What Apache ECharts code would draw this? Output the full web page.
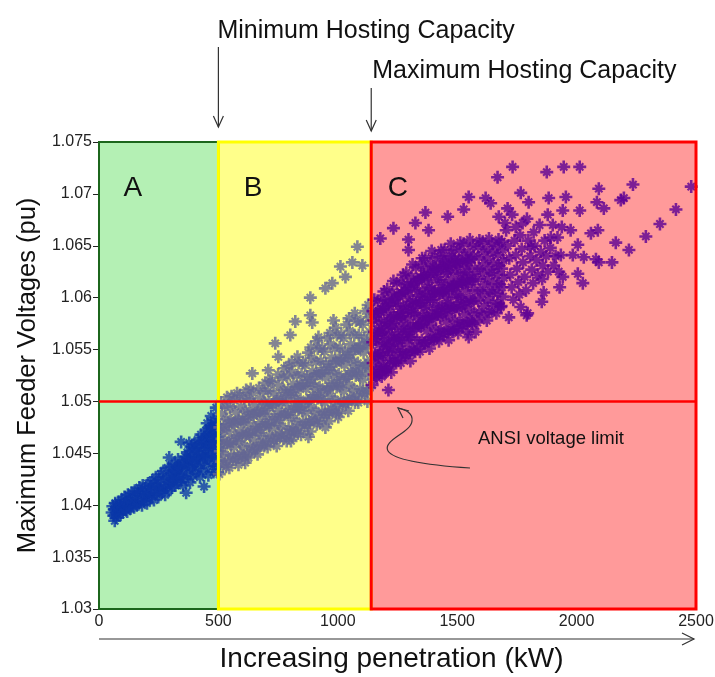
<!DOCTYPE html>
<html>
<head>
<meta charset="utf-8">
<script src="https://cdn.jsdelivr.net/npm/echarts@6/dist/echarts.min.js"></script>
<style>
html, body { margin: 0; padding: 0; background: #fff; }
#chart { width: 715px; height: 677px; }
</style>
</head>
<body>
<div id="chart"></div>
<script>
// zones on the penetration axis (kW)
var zoneEdges = [0, 500, 1140, 2500];
var zoneNames = ['A', 'B', 'C'];
var zoneLabelX = [142, 645, 1252];
var ansiLimit = 1.05;
var xMin = 0, xMax = 2500, xStep = 500;
var yMin = 1.03, yMax = 1.075, yStep = 0.005;

// zone A - below minimum hosting capacity
var blueA = [
  [55,1.0393],[58,1.0399],[62,1.0390],[64,1.0396],[66,1.0385],[68,1.0402],[71,1.0388],[74,1.0398],[78,1.0391],[80,1.0403],[84,1.0395],[87,1.0400],[90,1.0391],[94,1.0405],[97,1.0397],[100,1.0393],
  [104,1.0401],[107,1.0408],[110,1.0396],[114,1.0403],[118,1.0394],[121,1.0410],[125,1.0399],[128,1.0405],[132,1.0397],[136,1.0412],[139,1.0402],[143,1.0408],[147,1.0398],[150,1.0414],[154,1.0404],[158,1.0400],
  [162,1.0411],[165,1.0401],[169,1.0417],[172,1.0406],[176,1.0413],[180,1.0400],[183,1.0419],[187,1.0409],[190,1.0404],[194,1.0416],[198,1.0410],[201,1.0402],[205,1.0421],[209,1.0412],[212,1.0406],[216,1.0418],
  [220,1.0410],[223,1.0424],[227,1.0415],[230,1.0405],[234,1.0420],[238,1.0427],[241,1.0411],[245,1.0418],[248,1.0408],[252,1.0425],[256,1.0416],[259,1.0430],[263,1.0412],[266,1.0421],[270,1.0433],[274,1.0417],[277,1.0410],[281,1.0426],[285,1.0419],[288,1.0436],
  [292,1.0414],[294,1.0446],[295,1.0428],[299,1.0421],[302,1.0437],[306,1.0417],[309,1.0431],[313,1.0424],[317,1.0440],[320,1.0419],[324,1.0433],[327,1.0427],[331,1.0444],[335,1.0422],[338,1.0436],[344,1.0461],[345,1.0429],[349,1.0441],[352,1.0419],[356,1.0434],[360,1.0447],[365,1.0412],
  [363,1.0425],[367,1.0439],[370,1.0451],[374,1.0430],[377,1.0444],[378,1.0460],[381,1.0422],[385,1.0456],[388,1.0437],[392,1.0447],[395,1.0428],[399,1.0459],[402,1.0440],[406,1.0432],[409,1.0452],[413,1.0463],[416,1.0436],[420,1.0446],[423,1.0427],[427,1.0468],[430,1.0441],[440,1.0418],
  [434,1.0455],[437,1.0433],[441,1.0461],[444,1.0447],[448,1.0472],[451,1.0438],[453,1.0479],[455,1.0456],[458,1.0429],[462,1.0465],[465,1.0450],[469,1.0476],[470,1.0486],[472,1.0440],[476,1.0458],[479,1.0432],[480,1.0482],[483,1.0470],[486,1.0447],[489,1.0478],[491,1.0494],[491,1.0437],[493,1.0462],[495,1.0452],[497,1.0432],[498,1.0472],
  [305,1.0426],[318,1.0434],[330,1.0438],[342,1.0426],[355,1.0440],[368,1.0446],[380,1.0436],[390,1.0452],[398,1.0443],[405,1.0455],[412,1.0445],[418,1.0458],[425,1.0450],[432,1.0462],[436,1.0446],
  [443,1.0466],[447,1.0455],[452,1.0468],[457,1.0445],[460,1.0474],[464,1.0458],[468,1.0466],[474,1.0449],[478,1.0474],[482,1.0459],[487,1.0466],[490,1.0443],[494,1.0478],[496,1.0466],[499,1.0456]
];

// zone B - between minimum and maximum hosting capacity
var grayB = [
  [504,1.0430],[512,1.0442],[508,1.0452],[515,1.0464],[506,1.0475],[514,1.0488],[510,1.0499],
  [532,1.0437],[527,1.0449],[535,1.0460],[525,1.0472],[533,1.0483],[529,1.0495],[536,1.0504],
  [546,1.0436],[554,1.0448],[550,1.0459],[544,1.0471],[552,1.0482],[548,1.0494],[555,1.0505],
  [573,1.0444],[566,1.0456],[575,1.0467],[568,1.0478],[571,1.0490],[564,1.0501],[578,1.0508],
  [584,1.0439],[592,1.0450],[588,1.0461],[595,1.0472],[586,1.0483],[594,1.0495],[590,1.0506],
  [612,1.0446],[607,1.0457],[615,1.0468],[605,1.0480],[613,1.0491],[609,1.0503],[616,1.0511],
  [626,1.0446],[634,1.0457],[630,1.0468],[624,1.0479],[632,1.0490],[628,1.0502],[635,1.0512],
  [653,1.0453],[646,1.0464],[655,1.0475],[648,1.0486],[651,1.0497],[644,1.0508],
  [664,1.0449],[672,1.0460],[668,1.0470],[675,1.0480],[666,1.0491],[674,1.0503],[670,1.0513],
  [692,1.0457],[687,1.0467],[695,1.0478],[685,1.0488],[693,1.0499],[689,1.0510],[696,1.0518],
  [706,1.0456],[714,1.0467],[710,1.0477],[704,1.0488],[712,1.0499],[708,1.0510],[715,1.0520],
  [733,1.0462],[726,1.0474],[735,1.0485],[728,1.0496],[731,1.0508],[724,1.0519],
  [744,1.0457],[752,1.0469],[748,1.0479],[755,1.0491],[746,1.0502],[754,1.0515],[750,1.0526],
  [772,1.0464],[767,1.0476],[775,1.0487],[765,1.0499],[773,1.0511],[769,1.0523],[776,1.0532],
  [786,1.0462],[794,1.0474],[790,1.0487],[784,1.0499],[792,1.0511],[788,1.0524],[795,1.0534],
  [804,1.0462],[812,1.0473],[808,1.0484],[815,1.0495],[806,1.0506],[814,1.0517],[810,1.0528],[807,1.0538],
  [832,1.0469],[827,1.0481],[835,1.0492],[825,1.0503],[833,1.0514],[829,1.0525],[836,1.0537],[831,1.0543],
  [846,1.0468],[854,1.0480],[850,1.0491],[844,1.0502],[852,1.0515],[848,1.0526],[855,1.0537],
  [873,1.0477],[866,1.0489],[875,1.0500],[868,1.0512],[871,1.0524],[864,1.0535],[877,1.0547],
  [884,1.0471],[892,1.0483],[888,1.0494],[895,1.0506],[886,1.0517],[894,1.0529],[890,1.0542],[887,1.0552],
  [912,1.0478],[907,1.0491],[915,1.0503],[905,1.0515],[913,1.0527],[909,1.0538],[916,1.0551],[911,1.0558],
  [926,1.0479],[934,1.0490],[930,1.0502],[924,1.0514],[932,1.0527],[928,1.0539],[935,1.0551],
  [953,1.0487],[946,1.0499],[955,1.0511],[948,1.0523],[951,1.0536],[944,1.0548],[957,1.0561],
  [964,1.0481],[972,1.0493],[968,1.0505],[975,1.0518],[966,1.0530],[974,1.0542],[970,1.0555],[967,1.0566],
  [992,1.0489],[987,1.0502],[995,1.0514],[985,1.0527],[993,1.0539],[989,1.0551],[996,1.0564],[991,1.0571],
  [1006,1.0489],[1014,1.0501],[1010,1.0514],[1004,1.0526],[1012,1.0539],[1008,1.0552],[1015,1.0564],
  [1033,1.0497],[1026,1.0510],[1035,1.0522],[1028,1.0535],[1031,1.0548],[1024,1.0561],[1037,1.0574],
  [1044,1.0491],[1052,1.0504],[1048,1.0516],[1055,1.0529],[1046,1.0542],[1054,1.0555],[1050,1.0568],[1047,1.0580],
  [1072,1.0499],[1067,1.0512],[1075,1.0525],[1065,1.0538],[1073,1.0551],[1069,1.0564],[1076,1.0578],[1071,1.0585],
  [1086,1.0499],[1094,1.0512],[1090,1.0525],[1084,1.0537],[1092,1.0551],[1088,1.0564],[1095,1.0577],
  [1113,1.0507],[1106,1.0521],[1115,1.0534],[1108,1.0547],[1111,1.0561],[1104,1.0574],[1117,1.0587],
  [1124,1.0500],[1132,1.0513],[1128,1.0527],[1135,1.0540],[1126,1.0553],[1134,1.0567],[1130,1.0581],[1127,1.0593],
  [642,1.0527],[709,1.0530],[738,1.0556],[751,1.0543],[801,1.0564],[822,1.0577],[885,1.0583],[893,1.0576],[885,1.0600],[948,1.0609],[977,1.0614],
  [1011,1.0630],[1032,1.0620],[1061,1.0634],[1082,1.0649],[1103,1.0631],[919,1.0562],[982,1.0578],[1002,1.0485],[948,1.0475],[877,1.0466],[810,1.0466],[612,1.0441],
  [521,1.0440],[518,1.0458],[523,1.0476],[541,1.0442],[538,1.0460],[543,1.0478],[561,1.0444],[558,1.0462],[563,1.0479],
  [581,1.0446],[578,1.0465],[583,1.0481],[601,1.0448],[598,1.0467],[603,1.0483],[621,1.0450],[618,1.0469],[623,1.0485],
  [641,1.0453],[638,1.0471],[643,1.0487],[661,1.0455],[658,1.0473],[663,1.0489],[681,1.0458],[678,1.0475],[683,1.0492],
  [701,1.0461],[698,1.0478],[703,1.0494],[721,1.0462],[718,1.0480],[723,1.0497],[741,1.0465],[738,1.0483],[743,1.0500],
  [761,1.0467],[758,1.0485],[763,1.0503],[781,1.0468],[778,1.0488],[783,1.0506],[801,1.0470],[798,1.0490],[803,1.0509],
  [821,1.0472],[818,1.0493],[823,1.0511],[841,1.0475],[838,1.0495],[843,1.0515],[861,1.0477],[858,1.0498],[863,1.0518],
  [881,1.0480],[878,1.0501],[883,1.0521],[901,1.0482],[898,1.0504],[903,1.0524],[921,1.0484],[918,1.0506],[923,1.0527],
  [941,1.0487],[938,1.0510],[943,1.0530],[961,1.0489],[958,1.0512],[963,1.0533],[981,1.0492],[978,1.0515],[983,1.0536],
  [1001,1.0496],[998,1.0518],[1003,1.0540],[1021,1.0498],[1018,1.0521],[1023,1.0542],[1041,1.0500],[1038,1.0524],[1043,1.0545],
  [1061,1.0503],[1058,1.0527],[1063,1.0548],[1081,1.0505],[1078,1.0529],[1083,1.0551],[1101,1.0508],[1098,1.0532],[1103,1.0555],
  [1121,1.0510],[1118,1.0535],[1123,1.0557]
];

// zone C - above maximum hosting capacity
var purpleC = [
  [1144,1.0516],[1152,1.0526],[1148,1.0537],[1155,1.0546],[1146,1.0557],[1154,1.0567],[1150,1.0578],[1147,1.0587],[1153,1.0598],
  [1164,1.0523],[1172,1.0533],[1168,1.0544],[1175,1.0555],[1166,1.0566],[1174,1.0576],[1170,1.0587],[1167,1.0597],
  [1184,1.0524],[1192,1.0534],[1188,1.0545],[1195,1.0556],[1186,1.0567],[1194,1.0578],[1190,1.0589],[1187,1.0599],[1193,1.0606],
  [1204,1.0532],[1212,1.0542],[1208,1.0554],[1215,1.0564],[1206,1.0576],[1214,1.0586],[1210,1.0598],[1207,1.0608],
  [1224,1.0528],[1232,1.0539],[1228,1.0550],[1235,1.0561],[1226,1.0572],[1234,1.0583],[1230,1.0594],[1227,1.0605],[1233,1.0616],
  [1244,1.0537],[1252,1.0548],[1248,1.0559],[1255,1.0570],[1246,1.0581],[1254,1.0592],[1250,1.0603],[1247,1.0614],
  [1264,1.0537],[1272,1.0548],[1268,1.0559],[1275,1.0570],[1266,1.0582],[1274,1.0592],[1270,1.0604],[1267,1.0615],[1273,1.0622],
  [1284,1.0545],[1292,1.0556],[1288,1.0568],[1295,1.0579],[1286,1.0591],[1294,1.0602],[1290,1.0613],[1287,1.0624],
  [1304,1.0539],[1312,1.0550],[1308,1.0562],[1315,1.0573],[1306,1.0586],[1314,1.0597],[1310,1.0609],[1307,1.0620],[1313,1.0632],
  [1324,1.0548],[1332,1.0559],[1328,1.0571],[1335,1.0582],[1326,1.0595],[1334,1.0606],[1330,1.0618],[1327,1.0629],
  [1344,1.0548],[1352,1.0559],[1348,1.0572],[1355,1.0583],[1346,1.0595],[1354,1.0607],[1350,1.0619],[1347,1.0631],[1353,1.0638],
  [1364,1.0556],[1372,1.0568],[1368,1.0580],[1375,1.0591],[1366,1.0603],[1374,1.0615],[1370,1.0627],[1367,1.0638],
  [1384,1.0551],[1392,1.0562],[1388,1.0574],[1395,1.0586],[1386,1.0598],[1394,1.0609],[1390,1.0622],[1387,1.0633],[1393,1.0645],
  [1404,1.0559],[1412,1.0570],[1408,1.0582],[1415,1.0593],[1406,1.0606],[1414,1.0617],[1410,1.0629],[1407,1.0640],
  [1424,1.0558],[1432,1.0569],[1428,1.0581],[1435,1.0592],[1426,1.0604],[1434,1.0615],[1430,1.0628],[1427,1.0639],[1433,1.0646],
  [1444,1.0565],[1452,1.0577],[1448,1.0589],[1455,1.0600],[1446,1.0612],[1454,1.0623],[1450,1.0635],[1447,1.0646],
  [1464,1.0559],[1472,1.0570],[1468,1.0582],[1475,1.0593],[1466,1.0606],[1474,1.0617],[1470,1.0629],[1467,1.0640],[1473,1.0652],
  [1484,1.0567],[1492,1.0578],[1488,1.0590],[1495,1.0601],[1486,1.0613],[1494,1.0624],[1490,1.0636],[1487,1.0647],
  [1504,1.0566],[1512,1.0577],[1508,1.0589],[1515,1.0600],[1506,1.0612],[1514,1.0623],[1510,1.0635],[1507,1.0646],[1513,1.0653],
  [1524,1.0573],[1532,1.0584],[1528,1.0596],[1535,1.0607],[1526,1.0619],[1534,1.0630],[1530,1.0641],[1527,1.0652],
  [1544,1.0567],[1552,1.0578],[1548,1.0589],[1555,1.0600],[1546,1.0612],[1554,1.0622],[1550,1.0634],[1547,1.0644],[1553,1.0656],
  [1564,1.0575],[1572,1.0585],[1568,1.0597],[1575,1.0607],[1566,1.0618],[1574,1.0628],[1570,1.0640],[1567,1.0650],
  [1584,1.0576],[1592,1.0586],[1588,1.0597],[1595,1.0607],[1586,1.0618],[1594,1.0628],[1590,1.0639],[1587,1.0649],[1593,1.0655],
  [1604,1.0582],[1612,1.0592],[1608,1.0603],[1615,1.0613],[1606,1.0623],[1614,1.0633],[1610,1.0644],[1607,1.0654],
  [1624,1.0578],[1632,1.0587],[1628,1.0598],[1635,1.0607],[1626,1.0618],[1634,1.0627],[1630,1.0637],[1627,1.0647],[1633,1.0657],
  [1644,1.0586],[1652,1.0595],[1648,1.0605],[1655,1.0614],[1646,1.0624],[1654,1.0633],[1650,1.0643],[1647,1.0652],
  [1664,1.0585],[1672,1.0594],[1668,1.0604],[1675,1.0613],[1666,1.0622],[1674,1.0631],[1670,1.0641],[1667,1.0650],[1673,1.0656],
  [1684,1.0592],[1692,1.0601],[1688,1.0610],[1695,1.0619],[1686,1.0628],[1694,1.0636],[1690,1.0646],[1687,1.0654],
  [1160,1.0530],[1160,1.0560],[1160,1.0585],[1180,1.0540],[1180,1.0571],[1200,1.0528],[1200,1.0560],[1200,1.0592],[1220,1.0547],[1220,1.0580],
  [1240,1.0565],[1240,1.0598],[1260,1.0553],[1260,1.0586],[1280,1.0575],[1280,1.0607],[1300,1.0562],[1300,1.0596],[1320,1.0585],[1320,1.0614],
  [1340,1.0575],[1340,1.0602],[1360,1.0590],[1360,1.0622],[1380,1.0580],[1380,1.0610],[1400,1.0598],[1400,1.0630],[1420,1.0588],[1420,1.0620],
  [1440,1.0605],[1440,1.0635],[1460,1.0595],[1460,1.0625],[1480,1.0610],[1480,1.0640],[1500,1.0603],[1500,1.0630],[1520,1.0615],[1540,1.0625],
  [1161,1.0525],[1158,1.0544],[1163,1.0563],[1159,1.0582],[1181,1.0528],[1178,1.0547],[1183,1.0566],[1179,1.0586],
  [1201,1.0531],[1198,1.0550],[1203,1.0570],[1199,1.0591],[1221,1.0535],[1218,1.0554],[1223,1.0574],[1219,1.0595],
  [1241,1.0539],[1238,1.0558],[1243,1.0578],[1239,1.0599],[1261,1.0542],[1258,1.0561],[1263,1.0582],[1259,1.0602],
  [1281,1.0544],[1278,1.0564],[1283,1.0585],[1279,1.0606],[1301,1.0547],[1298,1.0567],[1303,1.0589],[1299,1.0610],
  [1321,1.0549],[1318,1.0570],[1323,1.0592],[1319,1.0613],[1341,1.0553],[1338,1.0573],[1343,1.0595],[1339,1.0617],
  [1361,1.0556],[1358,1.0576],[1363,1.0598],[1359,1.0620],[1381,1.0558],[1378,1.0579],[1383,1.0601],[1379,1.0622],
  [1401,1.0561],[1398,1.0582],[1403,1.0604],[1399,1.0625],[1421,1.0563],[1418,1.0584],[1423,1.0605],[1419,1.0627],
  [1441,1.0565],[1438,1.0586],[1443,1.0607],[1439,1.0629],[1461,1.0567],[1458,1.0588],[1463,1.0609],[1459,1.0631],
  [1481,1.0569],[1478,1.0589],[1483,1.0611],[1479,1.0632],[1501,1.0571],[1498,1.0591],[1503,1.0613],[1499,1.0634],
  [1521,1.0573],[1518,1.0593],[1523,1.0614],[1519,1.0635],[1541,1.0575],[1538,1.0595],[1543,1.0616],[1539,1.0636],
  [1561,1.0577],[1558,1.0596],[1563,1.0616],[1559,1.0637],
  [1705,1.0665],[1712,1.0650],[1718,1.0638],[1722,1.0622],[1728,1.0610],[1735,1.0598],[1740,1.0655],[1745,1.0641],[1750,1.0628],[1756,1.0615],[1760,1.0603],
  [1764,1.0660],[1770,1.0647],[1776,1.0634],[1782,1.0620],[1788,1.0607],[1792,1.0676],[1798,1.0655],[1805,1.0640],[1812,1.0627],[1818,1.0614],
  [1825,1.0650],[1832,1.0636],[1838,1.0622],[1845,1.0670],[1850,1.0644],[1856,1.0618],[1866,1.0655],[1872,1.0640],[1880,1.0625],[1890,1.0648],
  [1900,1.0670],[1912,1.0640],[1920,1.0658],[1925,1.0625],[1700,1.0672],[1730,1.0680],[1745,1.0668],
  [1178,1.0657],[1233,1.0667],[1296,1.0656],[1296,1.0646],[1325,1.0672],[1367,1.0682],[1380,1.0665],[1460,1.0678],[1527,1.0685],[1548,1.0697],
  [1619,1.0696],[1640,1.0691],[1711,1.0686],[1674,1.0678],[1732,1.0726],[1669,1.0716],[1766,1.0701],[1799,1.0692],[1774,1.0672],
  [1682,1.0591],[1716,1.0581],[1766,1.0591],[1795,1.0585],[1548,1.0562],[1577,1.0567],[1212,1.0511],
  [1875,1.0721],[1946,1.0726],[2013,1.0726],[2093,1.0705],[2185,1.0694],[2198,1.0696],[2236,1.0709],[2416,1.0685],[2349,1.0671],[2290,1.0659],
  [2219,1.0646],[2164,1.0653],[2148,1.0634],[2093,1.0634],[2081,1.0637],[2030,1.0639],[2005,1.0623],[2026,1.0614],[1942,1.0620],[1929,1.0610],
  [1904,1.0631],[1858,1.0631],[1862,1.0605],[1854,1.0596],[1791,1.0583],[2085,1.0692],[2114,1.0686],[2013,1.0684],[1955,1.0697],[1883,1.0696],
  [1879,1.0680],[1942,1.0684],[1938,1.0668],[1975,1.0665],[2089,1.0665],[2060,1.0662],[2005,1.0651],[1934,1.0641],[1984,1.0641],[1892,1.0658],
  [1808,1.0649],[1820,1.0663],[2480,1.0707]
];

var zoneFill = ['#b4f0b4', '#ffff8a', '#ff9a9a'];
var zoneBorder = ['#1c661c', '#ffff00', '#ff0000'];
var zoneBorderWidth = [2, 3, 3];
var markerColor = ['#0a37a8', '#646793', '#5c0094'];

// MATLAB-like '*' marker, heavy strokes so the dense cloud reads solid
var starPath = 'path://M-1.3,-6.5L1.3,-6.5L1.3,6.5L-1.3,6.5Z M-6.5,-1.3L6.5,-1.3L6.5,1.3L-6.5,1.3Z ' +
  'M-4.4,-2.9L-2.9,-4.4L4.4,2.9L2.9,4.4Z M2.9,-4.4L4.4,-2.9L-2.9,4.4L-4.4,2.9Z M-2.3,-2.3L2.3,-2.3L2.3,2.3L-2.3,2.3Z';

var plot = { left: 99, top: 142, width: 597, height: 467 };
var font = 'Liberation Sans';

var grids = [{ left: plot.left, top: plot.top, width: plot.width, height: plot.height, containLabel: false, outerBoundsMode: 'none' }];
for (var i = 0; i < 3; i++) {
  grids.push({
    left: plot.left + plot.width * (zoneEdges[i] - xMin) / (xMax - xMin),
    top: plot.top,
    width: plot.width * (zoneEdges[i + 1] - zoneEdges[i]) / (xMax - xMin),
    height: plot.height,
    containLabel: false,
    outerBoundsMode: 'none'
  });
}

var tickStyle = { show: true, inside: true, length: 6, lineStyle: { color: '#222', width: 1 } };

var xAxes = [
  {
    gridIndex: 0, type: 'value', min: xMin, max: xMax, interval: xStep, position: 'bottom',
    name: 'Increasing penetration (kW)', nameLocation: 'middle', nameGap: 36,
    nameTextStyle: { fontSize: 28, color: '#111', fontFamily: font, padding: [0, 12, 0, 0] },
    axisLine: { show: false }, axisTick: tickStyle, splitLine: { show: false },
    axisLabel: { fontSize: 16, color: '#222', fontFamily: font, margin: 5, formatter: function (v) { return String(v); } }
  },
  {
    gridIndex: 0, type: 'value', min: xMin, max: xMax, interval: xStep, position: 'top',
    axisLine: { show: false }, axisTick: tickStyle, splitLine: { show: false }, axisLabel: { show: false }
  }
];
var yAxes = [
  {
    gridIndex: 0, type: 'value', min: yMin, max: yMax, interval: yStep, position: 'left',
    name: 'Maximum Feeder Voltages (pu)', nameLocation: 'middle', nameGap: 57,
    nameTextStyle: { fontSize: 25.5, color: '#111', fontFamily: font },
    axisLine: { show: false }, axisTick: tickStyle, splitLine: { show: false },
    axisLabel: {
      fontSize: 16, color: '#222', fontFamily: font, margin: 7,
      formatter: function (v) { return String(+v.toFixed(3)); }
    }
  },
  {
    gridIndex: 0, type: 'value', min: yMin, max: yMax, interval: yStep, position: 'right',
    axisLine: { show: false }, axisTick: tickStyle, splitLine: { show: false }, axisLabel: { show: false }
  }
];
for (var j = 0; j < 3; j++) {
  xAxes.push({ gridIndex: j + 1, type: 'value', min: zoneEdges[j], max: zoneEdges[j + 1], show: false });
  yAxes.push({ gridIndex: j + 1, type: 'value', min: yMin, max: yMax, show: false });
}

var zoneRows = [];
for (var k = 0; k < 3; k++) zoneRows.push([zoneEdges[k], zoneEdges[k + 1]]);

function zoneRect(api, x0, x1) {
  var p0 = api.coord([x0, yMax]);
  var p1 = api.coord([x1, yMin]);
  return { x: p0[0], y: p0[1], width: p1[0] - p0[0], height: p1[1] - p0[1] };
}

var pointSets = [blueA, grayB, purpleC];
var series = [
  {
    type: 'custom', name: 'zones', xAxisIndex: 0, yAxisIndex: 0, z: 1, silent: true,
    data: zoneRows,
    renderItem: function (params, api) {
      return {
        type: 'rect', shape: zoneRect(api, api.value(0), api.value(1)),
        style: { fill: zoneFill[params.dataIndex] }
      };
    }
  }
];
pointSets.forEach(function (pts, idx) {
  series.push({
    type: 'scatter', xAxisIndex: idx + 2, yAxisIndex: idx + 2, z: 2, clip: true, silent: true,
    symbol: starPath, symbolSize: 13,
    itemStyle: { color: markerColor[idx] },
    data: pts
  });
});
series.push({
  type: 'custom', name: 'zoneBorders', xAxisIndex: 0, yAxisIndex: 0, z: 3, silent: true,
  data: zoneRows,
  renderItem: function (params, api) {
    var i = params.dataIndex;
    return {
      type: 'rect', shape: zoneRect(api, api.value(0), api.value(1)),
      style: { fill: 'none', stroke: zoneBorder[i], lineWidth: zoneBorderWidth[i] }
    };
  }
});
series.push({
  type: 'custom', name: 'ansi', xAxisIndex: 0, yAxisIndex: 0, z: 4, silent: true,
  data: [[xMin, xMax, ansiLimit]],
  renderItem: function (params, api) {
    var a = api.coord([api.value(0), api.value(2)]);
    var b = api.coord([api.value(1), api.value(2)]);
    return {
      type: 'line', shape: { x1: a[0], y1: a[1], x2: b[0], y2: b[1] },
      style: { stroke: '#ff0000', lineWidth: 2.5 }
    };
  }
});

var chart = echarts.init(document.getElementById('chart'));
chart.setOption({
  animation: false,
  backgroundColor: '#ffffff',
  grid: grids,
  xAxis: xAxes,
  yAxis: yAxes,
  series: series
});

// annotations
function px(x, y) { return chart.convertToPixel({ gridIndex: 0 }, [x, y]); }
var ink = '#333';
var inkStyle = { stroke: ink, lineWidth: 1.2, fill: null };
function downArrow(x, y0, y1) {
  return [
    { type: 'line', shape: { x1: x, y1: y0, x2: x, y2: y1 }, style: inkStyle },
    { type: 'polyline', shape: { points: [[x - 5, y1 - 11], [x, y1], [x + 5, y1 - 11]] }, style: inkStyle }
  ];
}
var xMinCap = px(zoneEdges[1], yMax)[0];
var xMaxCap = px(zoneEdges[2], yMax)[0];
var graphics = [
  { type: 'text', x: xMinCap - 1, y: 31, style: { text: 'Minimum Hosting Capacity', fontSize: 25, fontFamily: font, fill: '#111', textVerticalAlign: 'middle' } },
  { type: 'text', x: xMaxCap + 1, y: 71, style: { text: 'Maximum Hosting Capacity', fontSize: 25, fontFamily: font, fill: '#111', textVerticalAlign: 'middle' } }
];
graphics = graphics.concat(downArrow(xMinCap, 47, 127), downArrow(xMaxCap, 88, 131));

zoneNames.forEach(function (n, i) {
  var p = px(zoneLabelX[i], 1.0705);
  graphics.push({ type: 'text', x: p[0], y: p[1], z: 10, style: { text: n, fontSize: 28, fontFamily: font, fill: '#111', textAlign: 'center', textVerticalAlign: 'middle' } });
});

graphics.push({ type: 'text', x: 478, y: 439, z: 10, style: { text: 'ANSI voltage limit', fontSize: 18.5, fontFamily: font, fill: '#111', textVerticalAlign: 'middle' } });
graphics.push({ type: 'bezierCurve', z: 10, shape: { x1: 470, y1: 468, cpx1: 440, cpy1: 466, cpx2: 395, cpy2: 462, x2: 388, y2: 451 }, style: inkStyle });
graphics.push({ type: 'bezierCurve', z: 10, shape: { x1: 388, y1: 451, cpx1: 382, cpy1: 440, cpx2: 411, cpy2: 433, x2: 412, y2: 421 }, style: inkStyle });
graphics.push({ type: 'bezierCurve', z: 10, shape: { x1: 412, y1: 421, cpx1: 413, cpy1: 413, cpx2: 406, cpy2: 410, x2: 398, y2: 408 }, style: inkStyle });
graphics.push({ type: 'polyline', z: 10, shape: { points: [[409, 411], [398, 408], [403, 418]] }, style: inkStyle });

// penetration arrow under the x axis
graphics.push({ type: 'line', shape: { x1: 99, y1: 639, x2: 694, y2: 639 }, style: inkStyle });
graphics.push({ type: 'polyline', shape: { points: [[682, 633], [694, 639], [682, 645]] }, style: inkStyle });

chart.setOption({ graphic: graphics });
</script>
</body>
</html>
